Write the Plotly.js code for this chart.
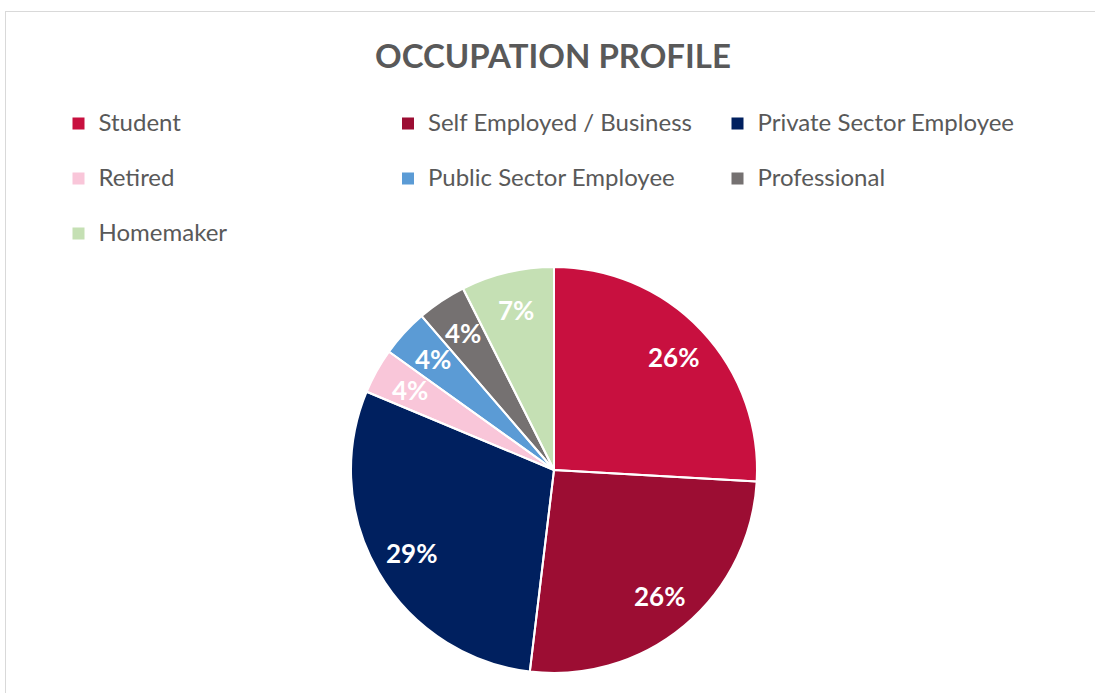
<!DOCTYPE html>
<html>
<head>
<meta charset="utf-8">
<script src="https://cdn.plot.ly/plotly-3.0.1.min.js"></script>
<style>
  html, body { margin: 0; padding: 0; background: #ffffff; overflow: hidden; }
  #frame { position: absolute; left: 5px; top: 11px; width: 1200px; height: 800px;
           border: 1px solid #d9d9d9; box-sizing: border-box; z-index: 0; }
  #chart { position: absolute; left: 0; top: 0; width: 1095px; height: 693px; z-index: 1; }
</style>
</head>
<body>
<div id="frame"></div>
<div id="chart"></div>
<script>
const categories = ['Student', 'Self Employed / Business', 'Private Sector Employee',
                    'Retired', 'Public Sector Employee', 'Professional', 'Homemaker'];
const shares = [25.9, 26.0, 29.4, 3.6, 3.8, 3.9, 7.4];
const colors = ['#C8103F', '#9C0D33', '#00205F', '#F9C6D9', '#5B9BD5', '#757171', '#C5E0B4'];
const chartTitle = 'OCCUPATION PROFILE';

const W = 1095, H = 693;
const cx = 554, cy = 470, r = 203;
const labelRadius = 0.81;

// legend labels: larger text on the first line, an empty second line gives the wide row spacing
const legendLabels = categories.map(c => '<span style="font-size:24px">' + c + '</span><br>\u00a0');

const domain = { x: [(cx - r) / W, (cx + r) / W], y: [(H - cy - r) / H, (H - cy + r) / H] };

const pieFill = {
  type: 'pie',
  labels: legendLabels,
  values: shares,
  sort: false,
  direction: 'clockwise',
  rotation: 0,
  marker: { colors: colors, line: { width: 0 } },
  textinfo: 'none',
  hovertemplate: '%{percent:.0%}<extra></extra>',
  domain: domain
};

const pieEdges = {
  type: 'pie',
  labels: legendLabels,
  values: shares,
  sort: false,
  direction: 'clockwise',
  rotation: 0,
  marker: { colors: categories.map(() => 'rgba(0,0,0,0)'), line: { color: '#ffffff', width: 2 } },
  textinfo: 'none',
  hoverinfo: 'skip',
  showlegend: false,
  domain: domain
};

// percentage labels placed at the middle angle of each slice
const total = shares.reduce((a, b) => a + b, 0);
let cum = 0;
const labelAnnotations = shares.map(v => {
  const mid = (cum + v / 2) / total * 2 * Math.PI;
  cum += v;
  const px = cx + labelRadius * r * Math.sin(mid);
  const py = cy - labelRadius * r * Math.cos(mid);
  return {
    xref: 'paper', yref: 'paper',
    x: px / W, y: 1 - py / H,
    xanchor: 'center', yanchor: 'middle',
    text: Math.round(v / total * 100) + '%',
    showarrow: false,
    font: { family: 'Lato, sans-serif', size: 26, color: '#ffffff', weight: 'bold' }
  };
});

const layout = {
  width: W, height: H,
  margin: { l: 0, r: 0, t: 0, b: 0, autoexpand: false },
  paper_bgcolor: 'rgba(0,0,0,0)',
  plot_bgcolor: 'rgba(0,0,0,0)',
  title: {
    text: chartTitle,
    font: { family: 'Lato, sans-serif', size: 33, color: '#595959', weight: 'bold' },
    x: 553 / W, xanchor: 'center', xref: 'container',
    y: 1 - 56 / H, yanchor: 'middle', yref: 'container'
  },
  annotations: labelAnnotations,
  showlegend: true,
  legend: {
    orientation: 'h',
    xref: 'container', yref: 'container',
    x: 58.5 / W, xanchor: 'left',
    y: 1 - 104 / H, yanchor: 'top',
    entrywidth: 284.5,
    valign: 'top',
    font: { family: 'Lato, sans-serif', size: 20, color: '#595959' },
    bgcolor: 'rgba(0,0,0,0)',
    itemclick: false, itemdoubleclick: false
  }
};

Plotly.newPlot('chart', [pieFill, pieEdges], layout, { displayModeBar: false, responsive: false });
</script>
</body>
</html>
